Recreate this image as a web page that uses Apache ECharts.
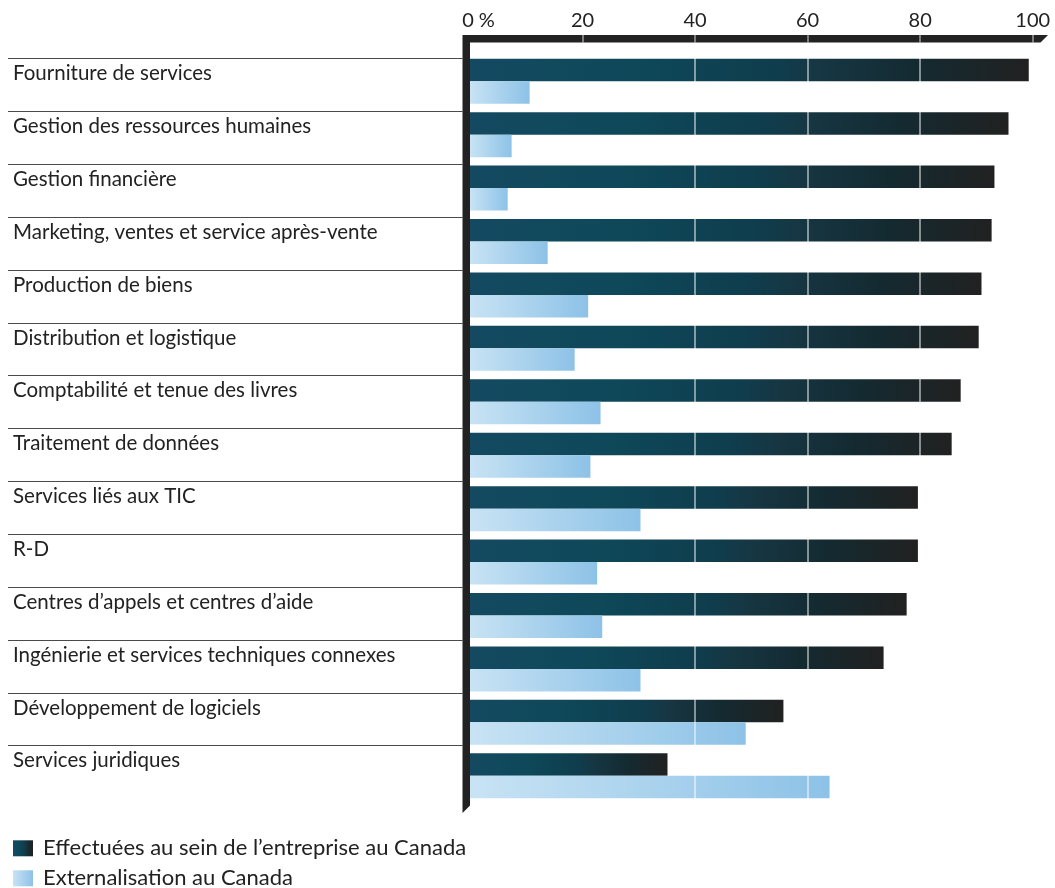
<!DOCTYPE html>
<html lang="fr">
<head>
<meta charset="utf-8">
<title>Activités effectuées au sein de l’entreprise et externalisées au Canada</title>
<script src="https://cdn.jsdelivr.net/npm/echarts@6/dist/echarts.min.js"></script>
<style>
  html, body { margin: 0; padding: 0; background: #ffffff; }
  #chart { width: 1055px; height: 888px; }
</style>
</head>
<body>
<div id="chart"></div>
<script>
// Activities, top to bottom
const categories = [
  'Fourniture de services',
  'Gestion des ressources humaines',
  'Gestion financière',
  'Marketing, ventes et service après-vente',
  'Production de biens',
  'Distribution et logistique',
  'Comptabilité et tenue des livres',
  'Traitement de données',
  'Services liés aux TIC',
  'R-D',
  'Centres d’appels et centres d’aide',
  'Ingénierie et services techniques connexes',
  'Développement de logiciels',
  'Services juridiques'
];

const seriesNames = [
  'Effectuées au sein de l’entreprise au Canada',
  'Externalisation au Canada'
];

// Share of enterprises (%)
const inHouse    = [99.3, 95.7, 93.2, 92.7, 90.9, 90.4, 87.2, 85.6, 79.6, 79.6, 77.6, 73.5, 55.7, 35.1];
const outsourced = [10.6, 7.4, 6.7, 13.8, 21.0, 18.6, 23.2, 21.4, 30.3, 22.6, 23.5, 30.3, 49.0, 63.9];

const tickValues = [0, 20, 40, 60, 80, 100];
const tickLabels = ['0 %', '20', '40', '60', '80', '100'];

// Layout
const W = 1055, H = 888;
const PLOT_LEFT = 470, PLOT_RIGHT = 1032.7;
const ROWS_TOP = 58.5, ROWS_BOTTOM = 798.5;
const BAR_SHIFT = 4;            // bars hug the top of their row
const FRAME = 7.5;              // thickness of the axis frame
const FRAME_TOP = 35, FRAME_BOTTOM = 813, FRAME_END = 1048;
const LEGEND_TOP = 837.3, LEGEND_STEP = 30;
const FONT = 'Lato, "Noto Sans", sans-serif';
const INK = '#222222';

const darkFill = new echarts.graphic.LinearGradient(0, 0, 1, 0, [
  { offset: 0, color: '#144a61' },
  { offset: 0.3, color: '#0e4859' },
  { offset: 0.55, color: '#0f3d4d' },
  { offset: 0.62, color: '#163744' },
  { offset: 0.8, color: '#142a31' },
  { offset: 1, color: '#212121' }
]);
const lightFill = new echarts.graphic.LinearGradient(0, 0, 1, 0, [
  { offset: 0, color: '#c8e3f4' },
  { offset: 1, color: '#8dc2e7' }
]);

const plotTop = ROWS_TOP - BAR_SHIFT;
const axisLineY = FRAME_TOP + FRAME;

// One legend block per series, stacked below the chart
const legends = seriesNames.map(function (name, i) {
  return {
    orient: 'vertical',
    left: 13,
    top: LEGEND_TOP + i * LEGEND_STEP,
    padding: 0,
    icon: 'rect',
    itemWidth: 20,
    itemHeight: 16,
    selectedMode: false,
    data: [name],
    textStyle: { fontSize: 22, lineHeight: 22, fontFamily: FONT, color: INK, padding: [0, 0, 0, 5] }
  };
});

const chart = echarts.init(document.getElementById('chart'), null, { renderer: 'canvas' });

chart.setOption({
  animation: false,
  backgroundColor: '#ffffff',
  textStyle: { fontFamily: FONT, color: INK },
  grid: [
    { left: PLOT_LEFT, right: W - PLOT_RIGHT, top: plotTop, bottom: H - ROWS_BOTTOM - BAR_SHIFT },
    { left: 8, right: W - (PLOT_LEFT - FRAME), top: ROWS_TOP, bottom: H - ROWS_BOTTOM }
  ],
  xAxis: [
    {
      gridIndex: 0,
      type: 'value',
      position: 'top',
      min: tickValues[0],
      max: tickValues[tickValues.length - 1],
      interval: tickValues[1] - tickValues[0],
      offset: plotTop - axisLineY,
      z: 5,
      axisLine: { show: false },
      axisTick: {
        show: true,
        customValues: tickValues.slice(1),
        length: FRAME,
        lineStyle: { color: 'rgba(255,255,255,0.55)', width: 1.5 }
      },
      axisLabel: {
        margin: 12,
        fontSize: 20,
        fontFamily: FONT,
        color: INK,
        formatter: function (v) {
          const i = tickValues.indexOf(v);
          return i === 0 ? '{first|' + tickLabels[0] + '}' : tickLabels[i];
        },
        rich: { first: { padding: [0, 0, 0, 17], fontSize: 20, fontFamily: FONT, color: INK } }
      },
      splitLine: {
        show: true,
        showMinLine: false,
        lineStyle: { color: 'rgba(255,255,255,0.65)', width: 1.5 }
      }
    },
    { gridIndex: 1, type: 'value', show: false, min: 0, max: 1 }
  ],
  yAxis: [
    { gridIndex: 0, type: 'category', data: categories, inverse: true, show: false },
    {
      gridIndex: 1,
      type: 'category',
      data: categories,
      inverse: true,
      axisLine: { show: false },
      axisTick: { show: false },
      splitLine: {
        show: true,
        showMaxLine: false,
        lineStyle: { color: '#4a4a4a', width: 1.2 }
      },
      axisLabel: {
        inside: true,
        align: 'left',
        margin: 5,
        fontSize: 20.5,
        fontFamily: FONT,
        color: INK,
        verticalAlign: 'bottom',
        lineHeight: 22.5
      }
    }
  ],
  legend: legends,
  series: [
    {
      name: seriesNames[0],
      type: 'bar',
      xAxisIndex: 0,
      yAxisIndex: 0,
      data: inHouse,
      barWidth: 22.5,
      barGap: '0%',
      itemStyle: { color: darkFill }
    },
    {
      name: seriesNames[1],
      type: 'bar',
      xAxisIndex: 0,
      yAxisIndex: 0,
      data: outsourced,
      barWidth: 22.5,
      barGap: '0%',
      itemStyle: { color: lightFill }
    }
  ],
  graphic: [
    {
      // L-shaped frame along the left and top edges of the plot, with bevelled ends
      type: 'polygon',
      z: 1,
      silent: true,
      shape: {
        points: [
          [PLOT_LEFT - FRAME, FRAME_TOP],
          [FRAME_END, FRAME_TOP],
          [FRAME_END - FRAME, FRAME_TOP + FRAME],
          [PLOT_LEFT, FRAME_TOP + FRAME],
          [PLOT_LEFT, FRAME_BOTTOM - FRAME],
          [PLOT_LEFT - FRAME, FRAME_BOTTOM]
        ]
      },
      style: { fill: INK }
    }
  ]
});
</script>
</body>
</html>
